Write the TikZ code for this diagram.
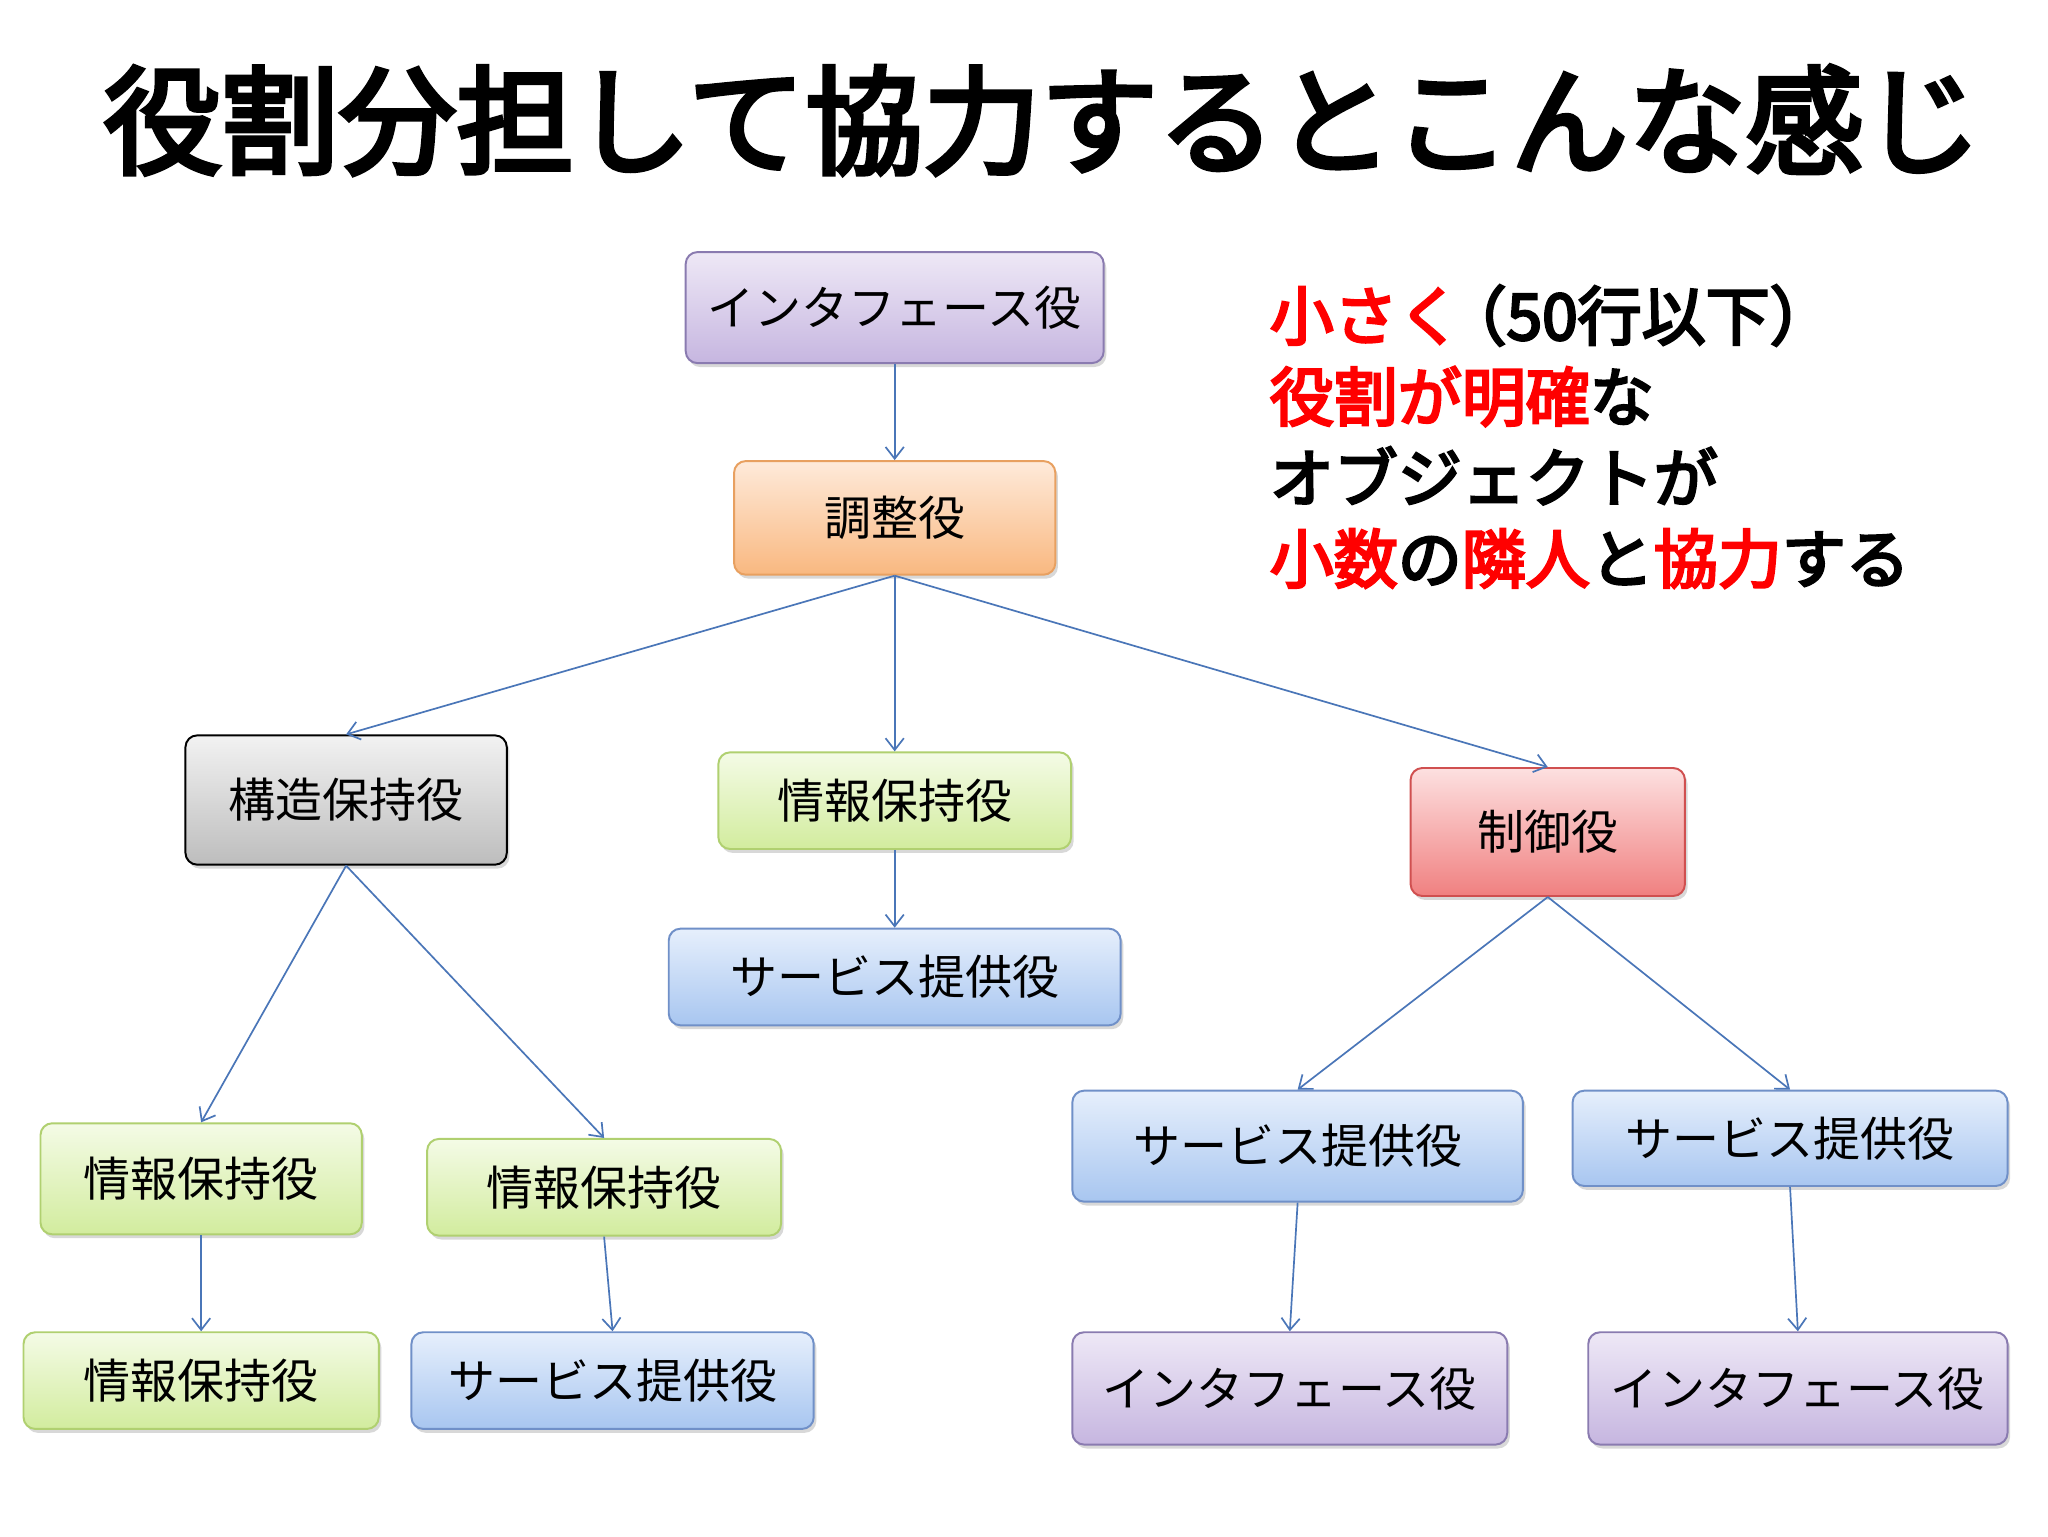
\documentclass[tikz,border=0pt]{standalone}
\usepackage{fontspec}
\setmainfont{Noto Sans CJK JP}
\newfontfamily\cjkb[FakeBold=4]{Noto Sans CJK JP}
\usetikzlibrary{arrows.meta,shadows}
\definecolor{edge}{HTML}{4A76B8}
\definecolor{HTML8A7BB0}{HTML}{8A7BB0}\definecolor{HTMLEEE8F6}{HTML}{EEE8F6}\definecolor{HTMLC6B6E0}{HTML}{C6B6E0}
\definecolor{HTMLE8A060}{HTML}{E8A060}\definecolor{HTMLFEEADA}{HTML}{FEEADA}\definecolor{HTMLF9B880}{HTML}{F9B880}
\definecolor{HTMLF2F2F2}{HTML}{F2F2F2}\definecolor{HTMLBDBDBD}{HTML}{BDBDBD}
\definecolor{HTMLB0D070}{HTML}{B0D070}\definecolor{HTMLF4FBE6}{HTML}{F4FBE6}\definecolor{HTMLD2EC9E}{HTML}{D2EC9E}
\definecolor{HTMLD05050}{HTML}{D05050}\definecolor{HTMLFDE0E0}{HTML}{FDE0E0}\definecolor{HTMLF08080}{HTML}{F08080}
\definecolor{HTML7090C8}{HTML}{7090C8}\definecolor{HTMLE6EFFC}{HTML}{E6EFFC}\definecolor{HTMLA8C6F0}{HTML}{A8C6F0}
\tikzset{
 box/.style={rounded corners=9pt,line width=1.5pt,inner sep=0pt,font=\fontsize{36}{38}\selectfont,drop shadow={shadow xshift=2pt,shadow yshift=-3pt,opacity=.3}},
 purp/.style={box,draw=HTML8A7BB0,top color=HTMLEEE8F6,bottom color=HTMLC6B6E0},
 orng/.style={box,draw=HTMLE8A060,top color=HTMLFEEADA,bottom color=HTMLF9B880},
 gray/.style={box,draw=black,top color=HTMLF2F2F2,bottom color=HTMLBDBDBD},
 gren/.style={box,draw=HTMLB0D070,top color=HTMLF4FBE6,bottom color=HTMLD2EC9E},
 redb/.style={box,draw=HTMLD05050,top color=HTMLFDE0E0,bottom color=HTMLF08080},
 blub/.style={box,draw=HTML7090C8,top color=HTMLE6EFFC,bottom color=HTMLA8C6F0},
 conn/.style={draw=edge,line width=1.3pt,-{Straight Barb[length=9pt,width=14pt]}},
}
\begin{document}
\begin{tikzpicture}[x=1pt,y=-1pt]
\useasboundingbox[fill=white] (0,0) rectangle (1568,1176);
\node (title) at (798,92) {\cjkb\fontsize{90}{94}\selectfont 役割分担して協力するとこんな感じ};
\newcommand\bx[7]{\node[#1,minimum width=#4-#2,minimum height=#5-#3] (#6) at ({(#2+#4)/2},{(#3+#5)/2}) {#7};}
\bx{purp}{525}{193}{845}{278}{if0}{インタフェース役}
\bx{orng}{562}{353}{808}{440}{coord}{調整役}
\bx{gray}{142}{563}{388}{662}{struct}{構造保持役}
\bx{gren}{550}{576}{820}{650}{infoC}{情報保持役}
\bx{redb}{1080}{588}{1290}{686}{ctrl}{制御役}
\bx{blub}{512}{711}{858}{785}{svcC}{サービス提供役}
\bx{gren}{31}{860}{277}{945}{infoL}{情報保持役}
\bx{gren}{327}{872}{598}{946}{infoM}{情報保持役}
\bx{gren}{18}{1020}{290}{1094}{infoLL}{情報保持役}
\bx{blub}{315}{1020}{623}{1094}{svcM}{サービス提供役}
\bx{blub}{821}{835}{1166}{920}{svcR1}{サービス提供役}
\bx{blub}{1204}{835}{1537}{908}{svcR2}{サービス提供役}
\bx{purp}{821}{1020}{1154}{1106}{ifR1}{インタフェース役}
\bx{purp}{1216}{1020}{1537}{1106}{ifR2}{インタフェース役}
\draw[conn] (if0.south) -- (coord.north);
\draw[conn] (coord.south) -- (struct.north);
\draw[conn] (coord.south) -- (infoC.north);
\draw[conn] (coord.south) -- (ctrl.north);
\draw[conn] (infoC.south) -- (svcC.north);
\draw[conn] (struct.south) -- (infoL.north);
\draw[conn] (struct.south) -- (infoM.north);
\draw[conn] (infoL.south) -- (infoLL.north);
\draw[conn] (infoM.south) -- (svcM.north);
\draw[conn] (ctrl.south) -- (svcR1.north);
\draw[conn] (ctrl.south) -- (svcR2.north);
\draw[conn] (svcR1.south) -- (ifR1.north);
\draw[conn] (svcR2.south) -- (ifR2.north);
\node[anchor=north west,align=left,inner sep=0pt,font=\cjkb\fontsize{49}{62}\selectfont] (note) at (972,218)
{\textcolor{red}{小さく}\kern-0.3em（50行以下）\\ \textcolor{red}{役割が明確}な\\ オブジェクトが\\ \textcolor{red}{小数}の\textcolor{red}{隣人}と\textcolor{red}{協力}する};
\end{tikzpicture}
\end{document}
